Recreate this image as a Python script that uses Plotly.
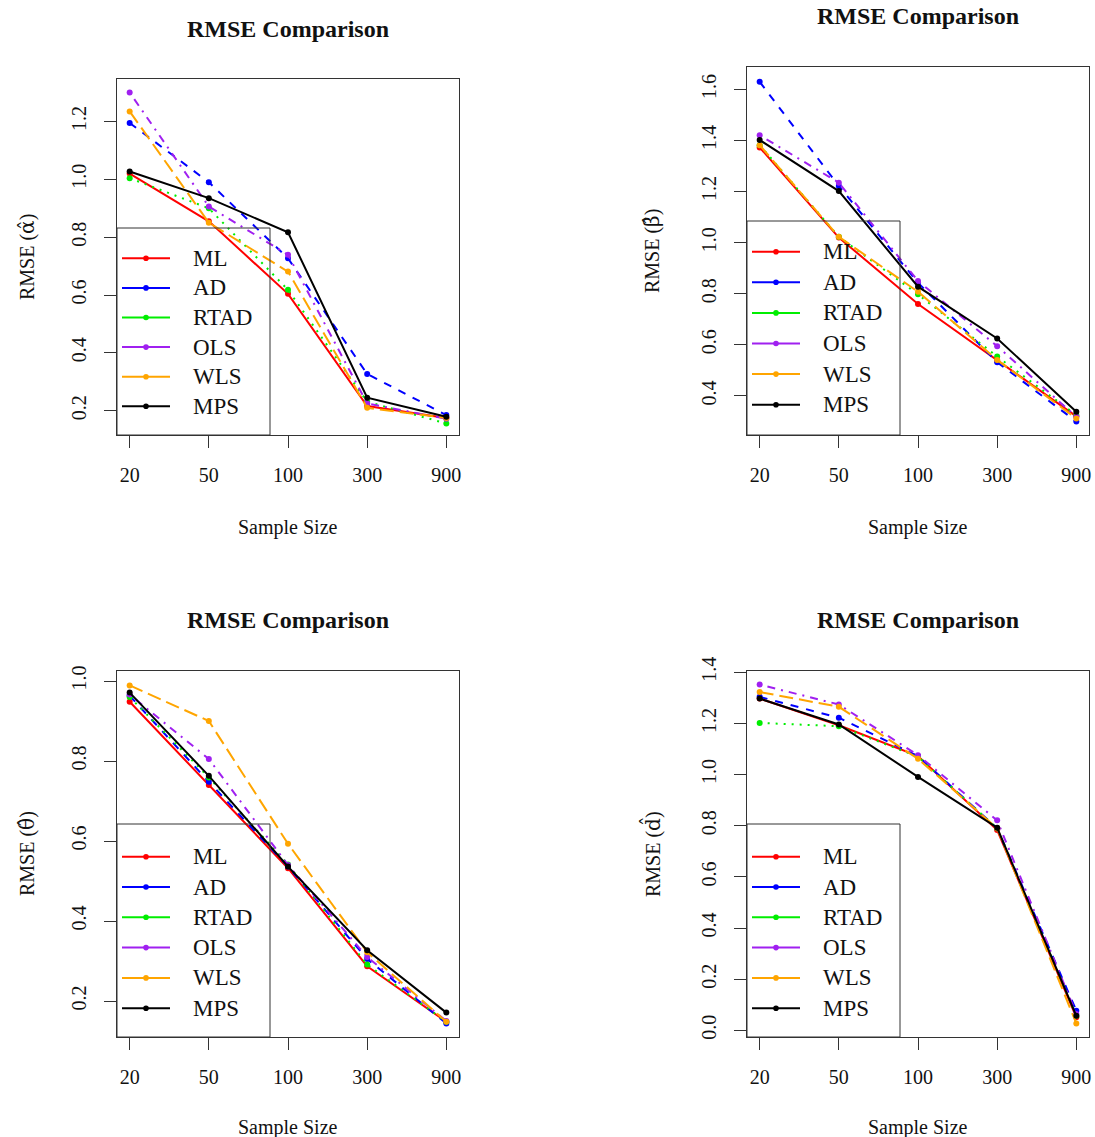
import plotly.graph_objects as go

W, H = 1095, 1137

sample_sizes = ["20", "50", "100", "300", "900"]
methods = ["ML", "AD", "RTAD", "OLS", "WLS", "MPS"]
colors = ["#FF0000", "#0000FF", "#00EE00", "#A020F0", "#FFA500", "#000000"]
dashes = ["solid", "8px,8px", "2px,6px", "2px,6px,8px,6px", "14px,6px", "solid"]

# RMSE of alpha-hat
alpha_ML = [1.020, 0.855, 0.604, 0.216, 0.175]
alpha_AD = [1.195, 0.990, 0.727, 0.327, 0.185]
alpha_RTAD = [1.004, 0.900, 0.618, 0.231, 0.156]
alpha_OLS = [1.300, 0.906, 0.739, 0.225, 0.172]
alpha_WLS = [1.235, 0.850, 0.681, 0.210, 0.175]
alpha_MPS = [1.027, 0.935, 0.817, 0.245, 0.179]

# RMSE of beta-hat
beta_ML = [1.373, 1.020, 0.760, 0.540, 0.320]
beta_AD = [1.630, 1.222, 0.843, 0.532, 0.300]
beta_RTAD = [1.382, 1.023, 0.798, 0.554, 0.325]
beta_OLS = [1.421, 1.235, 0.850, 0.595, 0.318]
beta_WLS = [1.382, 1.023, 0.808, 0.541, 0.312]
beta_MPS = [1.402, 1.202, 0.828, 0.625, 0.338]

# RMSE of theta-hat
theta_ML = [0.948, 0.740, 0.532, 0.287, 0.148]
theta_AD = [0.963, 0.748, 0.536, 0.305, 0.144]
theta_RTAD = [0.960, 0.759, 0.541, 0.291, 0.148]
theta_OLS = [0.966, 0.805, 0.540, 0.310, 0.150]
theta_WLS = [0.989, 0.900, 0.593, 0.322, 0.148]
theta_MPS = [0.971, 0.763, 0.536, 0.327, 0.171]

# RMSE of d-hat
d_ML = [1.297, 1.193, 1.072, 0.783, 0.051]
d_AD = [1.304, 1.222, 1.072, 0.790, 0.077]
d_RTAD = [1.202, 1.189, 1.070, 0.790, 0.057]
d_OLS = [1.352, 1.274, 1.076, 0.821, 0.064]
d_WLS = [1.323, 1.265, 1.062, 0.790, 0.027]
d_MPS = [1.297, 1.196, 0.991, 0.792, 0.057]

panel_titles = ["RMSE Comparison"] * 4
SYM = '<span style="font-family:DejaVu Serif">%s\u0302</span>'
y_titles = ["RMSE (" + SYM % "\u03b1" + ")", "RMSE (" + SYM % "\u03b2" + ")",
            "RMSE (" + SYM % "\u03b8" + ")", "RMSE (" + SYM % "d" + ")"]
y_ticks = [[0.2, 0.4, 0.6, 0.8, 1.0, 1.2],
           [0.4, 0.6, 0.8, 1.0, 1.2, 1.4, 1.6],
           [0.2, 0.4, 0.6, 0.8, 1.0],
           [0.0, 0.2, 0.4, 0.6, 0.8, 1.0, 1.2, 1.4]]
y_ranges = [[0.116, 1.347], [0.247, 1.688], [0.110, 1.025], [-0.026, 1.405]]

panel_series = [
    [alpha_ML, alpha_AD, alpha_RTAD, alpha_OLS, alpha_WLS, alpha_MPS],
    [beta_ML, beta_AD, beta_RTAD, beta_OLS, beta_WLS, beta_MPS],
    [theta_ML, theta_AD, theta_RTAD, theta_OLS, theta_WLS, theta_MPS],
    [d_ML, d_AD, d_RTAD, d_OLS, d_WLS, d_MPS],
]

# panel boxes in pixels: left, right, top, bottom
boxes = [(117, 459, 79, 435), (747, 1089, 67, 435),
         (117, 459, 671, 1037), (747, 1089, 671, 1037)]
# legend: top of box, first item y, step
legend_geo = [(228, 258.3, 29.6), (221, 251.7, 30.6),
              (824, 856.7, 30.3), (824, 856.7, 30.3)]
title_y = [29, 16, 620, 620]
ytitle_x = [27, 652, 27, 652]
xtitle_y = [527, 527, 1127, 1127]

FONT = "Liberation Serif, Times New Roman, serif"


def px(x):
    return x / W


def py(y):
    return 1 - y / H


fig = go.Figure()
shapes = []
annotations = []
layout = {}

for p in range(4):
    ax = "" if p == 0 else str(p + 1)
    xa, ya = "x" + ax, "y" + ax
    l, r, t, b = boxes[p]
    for m in range(6):
        fig.add_trace(go.Scatter(
            x=sample_sizes, y=panel_series[p][m], name=methods[m],
            mode="lines+markers", xaxis=xa, yaxis=ya, showlegend=False,
            line=dict(color=colors[m], width=2, dash=dashes[m]),
            marker=dict(color=colors[m], size=6),
        ))
    axis_common = dict(showline=True, mirror=True, linecolor="#333", linewidth=1,
                       ticks="outside", ticklen=12, tickwidth=1, tickcolor="#333",
                       showgrid=False, zeroline=False, automargin=False,
                       tickfont=dict(family=FONT, size=20, color="#111"))
    layout["xaxis" + ax] = dict(axis_common, domain=[px(l), px(r)], anchor=ya,
                                type="category", range=[-0.16, 4.16],
                                ticklabelstandoff=10)
    layout["yaxis" + ax] = dict(axis_common, domain=[py(b), py(t)], anchor=xa,
                                range=y_ranges[p], tickvals=y_ticks[p],
                                ticktext=["%.1f" % v for v in y_ticks[p]],
                                tickangle=-90, ticklabelstandoff=10)
    cx = (l + r) / 2
    annotations.append(dict(text="<b>" + panel_titles[p] + "</b>", x=px(cx), y=py(title_y[p]),
                            xref="paper", yref="paper", showarrow=False,
                            xanchor="center", yanchor="middle",
                            font=dict(family=FONT, size=24, color="#111")))
    annotations.append(dict(text="Sample Size", x=px(cx), y=py(xtitle_y[p]),
                            xref="paper", yref="paper", showarrow=False,
                            xanchor="center", yanchor="middle",
                            font=dict(family=FONT, size=20, color="#111")))
    annotations.append(dict(text=y_titles[p], x=px(ytitle_x[p]), y=py((t + b) / 2),
                            xref="paper", yref="paper", showarrow=False, textangle=-90,
                            xanchor="center", yanchor="middle",
                            font=dict(family=FONT, size=20, color="#111")))
    # legend box
    lt, ly0, lstep = legend_geo[p]
    shapes.append(dict(type="rect", xref="paper", yref="paper",
                       x0=px(l), x1=px(l + 153), y0=py(b), y1=py(lt),
                       line=dict(color="#333", width=1), fillcolor="rgba(0,0,0,0)"))
    for m in range(6):
        yy = ly0 + m * lstep
        shapes.append(dict(type="line", xref="paper", yref="paper",
                           x0=px(l + 5), x1=px(l + 53), y0=py(yy), y1=py(yy),
                           line=dict(color=colors[m], width=2)))
        shapes.append(dict(type="circle", xref="paper", yref="paper",
                           x0=px(l + 29 - 2.8), x1=px(l + 29 + 2.8),
                           y0=py(yy + 2.8), y1=py(yy - 2.8),
                           line=dict(color=colors[m], width=0), fillcolor=colors[m]))
        annotations.append(dict(text=methods[m], x=px(l + 74), y=py(yy),
                                xref="paper", yref="paper", showarrow=False,
                                xanchor="left", yanchor="middle",
                                font=dict(family=FONT, size=23, color="#111")))

fig.update_layout(
    width=W, height=H,
    margin=dict(l=0, r=0, t=0, b=0),
    paper_bgcolor="white", plot_bgcolor="white",
    showlegend=False,
    shapes=shapes, annotations=annotations,
    **layout,
)

fig.write_html("out.html")
